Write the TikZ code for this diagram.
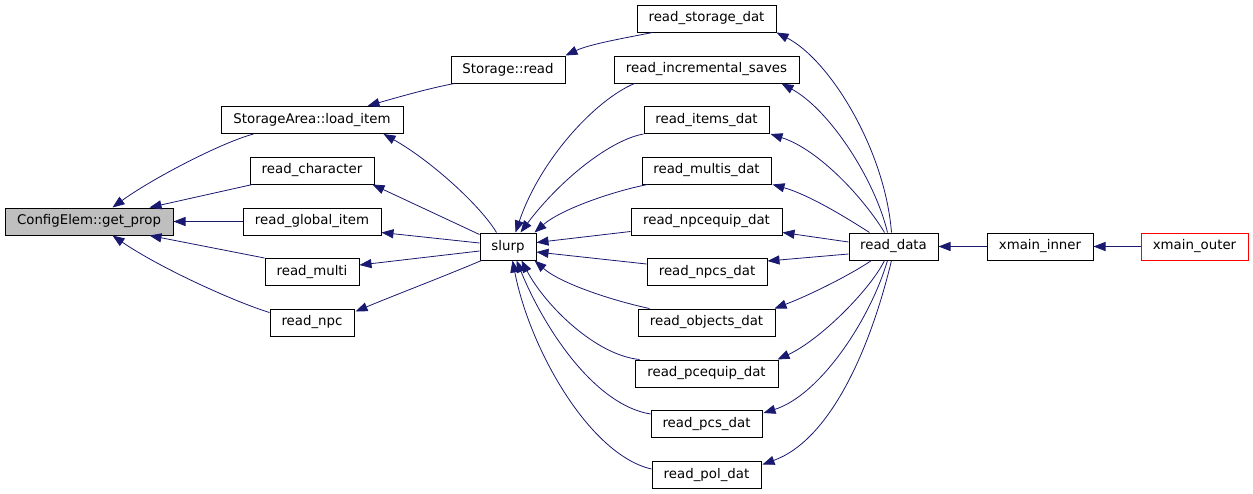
\documentclass[tikz,border=0pt]{standalone}
\usepackage{fontspec}
\setmainfont{DejaVu Sans}
\usetikzlibrary{arrows.meta,calc}
\definecolor{edgecol}{HTML}{191970}
\definecolor{selfill}{HTML}{BFBFBF}
\begin{document}
\begin{tikzpicture}[x=0.75pt,y=-0.75pt,
  box/.style={draw=black,line width=0.75pt,inner sep=0pt,minimum height=20.25pt,
    font=\fontsize{10}{12}\selectfont,anchor=center},
  bw/.style={minimum width=#1*0.75pt},
  edge/.style={draw=edgecol,line width=0.6pt,-{Triangle[length=9pt,width=6.8pt]}}]
\useasboundingbox (0,0) rectangle (1253,493);
% nodes
\node[box,bw=168,fill=selfill] (getprop) at (89,221.5) {ConfigElem::get\_prop};
\node[box,bw=182] (load) at (312,120) {StorageArea::load\_item};
\node[box,bw=124] (charac) at (312,170.5) {read\_character};
\node[box,bw=138] (global) at (312,221.5) {read\_global\_item};
\node[box,bw=94] (multi) at (312,272) {read\_multi};
\node[box,bw=84] (npc) at (312,322.5) {read\_npc};
\node[box,bw=114] (sread) at (508,69.5) {Storage::read};
\node[box,bw=56] (slurp) at (508,246.5) {slurp};
\node[box,bw=139] (stordat) at (706.5,18.5) {read\_storage\_dat};
\node[box,bw=185] (incr) at (706.5,69.5) {read\_incremental\_saves};
\node[box,bw=125] (items) at (706.5,120) {read\_items\_dat};
\node[box,bw=129] (multis) at (706.5,170.5) {read\_multis\_dat};
\node[box,bw=151] (npcequip) at (706.5,221.5) {read\_npcequip\_dat};
\node[box,bw=120] (npcs) at (707,272) {read\_npcs\_dat};
\node[box,bw=137] (objects) at (706.5,322.5) {read\_objects\_dat};
\node[box,bw=143] (pcequip) at (706.5,373.5) {read\_pcequip\_dat};
\node[box,bw=111] (pcs) at (706.5,424) {read\_pcs\_dat};
\node[box,bw=109] (pol) at (706.5,474.5) {read\_pol\_dat};
\node[box,bw=89] (rdata) at (893.5,246.5) {read\_data};
\node[box,bw=106] (xinner) at (1040,246.5) {xmain\_inner};
\node[box,bw=107,draw=red] (xouter) at (1194.5,246.5) {xmain\_outer};
% edges into get_prop
\draw[edge] ($(load.south west)+(33,0)$) .. controls (220,143) and (150,180) .. ($(getprop.north west)+(108,0)$);
\draw[edge] ($(charac.south west)+(3,0)$) -- ($(getprop.north west)+(145,0)$);
\draw[edge] (global.west) -- (getprop.east);
\draw[edge] (multi.north west) -- ($(getprop.south west)+(145,0)$);
\draw[edge] ($(npc.north west)+(0,4)$) .. controls (235,302) and (160,268) .. ($(getprop.south west)+(108,0)$);
% Storage
\draw[edge] ($(sread.south west)+(4,0)$) .. controls (430,88) and (395,98) .. ($(load.north west)+(147,0)$);
\draw[edge] ($(stordat.south west)+(16,0)$) .. controls (625,38) and (590,44) .. (sread.north east);
% slurp to second column
\draw[edge] ($(slurp.north west)+(17,0)$) .. controls (480,205) and (430,160) .. ($(load.south east)+(-20,0)$);
\draw[edge] ($(slurp.north west)+(0,2)$) -- ($(charac.south east)+(-2,0)$);
\draw[edge] ($(slurp.west)+(0,-3.5)$) -- ($(global.south east)+(0,-3)$);
\draw[edge] ($(slurp.west)+(0,4.5)$) -- ($(multi.east)+(0,-7)$);
\draw[edge] ($(slurp.south west)+(2,0)$) .. controls (440,278) and (395,295) .. ($(npc.north east)+(1,3)$);
% into slurp
\draw[edge] ($(incr.south west)+(21,0)$) .. controls (595,100) and (540,160) .. ($(slurp.north west)+(36,0)$);
\draw[edge] (items.south west) .. controls (610,140) and (560,180) .. ($(slurp.north west)+(41,0)$);
\draw[edge] ($(multis.south west)+(6,0)$) .. controls (610,192) and (560,210) .. ($(slurp.north east)+(-2,0)$);
\draw[edge] ($(npcequip.south west)+(0,-4)$) -- ($(slurp.east)+(0,-4)$);
\draw[edge] ($(npcs.west)+(0,-8)$) -- ($(slurp.east)+(0,5.5)$);
\draw[edge] ($(objects.north west)+(12,0)$) .. controls (610,300) and (560,283) .. ($(slurp.south east)+(-2,0)$);
\draw[edge] ($(pcequip.north west)+(5,0)$) .. controls (595,355) and (545,305) .. ($(slurp.south west)+(42,0)$);
\draw[edge] ($(pcs.north west)+(0,4)$) .. controls (595,405) and (545,330) .. ($(slurp.south west)+(37,0)$);
\draw[edge] ($(pol.west)+(0,-5.5)$) .. controls (590,455) and (530,350) .. ($(slurp.south west)+(33,0)$);
% read_data
\draw[edge] ($(rdata.north west)+(43,0)$) .. controls (885,150) and (830,60) .. (stordat.south east);
\draw[edge] ($(rdata.north west)+(39,0)$) .. controls (875,180) and (830,110) .. ($(incr.south east)+(-18,0)$);
\draw[edge] ($(rdata.north west)+(36,0)$) .. controls (865,200) and (820,150) .. ($(items.south east)+(1,0)$);
\draw[edge] ($(rdata.north west)+(21,0)$) .. controls (850,220) and (810,195) .. ($(multis.south east)+(1,0)$);
\draw[edge] ($(rdata.west)+(0,-4.5)$) -- ($(npcequip.south east)+(0,-3)$);
\draw[edge] ($(rdata.west)+(0,7.5)$) -- ($(npcs.north east)+(0,3)$);
\draw[edge] ($(rdata.south west)+(23,0)$) .. controls (850,275) and (810,295) .. ($(objects.north east)+(-1,0)$);
\draw[edge] ($(rdata.south west)+(36,0)$) .. controls (870,290) and (820,340) .. ($(pcequip.north east)+(-1,0)$);
\draw[edge] ($(rdata.south west)+(39,0)$) .. controls (870,320) and (820,395) .. ($(pcs.north east)+(1,3)$);
\draw[edge] ($(rdata.south west)+(43,0)$) .. controls (870,350) and (830,440) .. ($(pol.north east)+(1,4)$);
\draw[edge] (xinner.west) -- (rdata.east);
\draw[edge] (xouter.west) -- (xinner.east);
\end{tikzpicture}
\end{document}
